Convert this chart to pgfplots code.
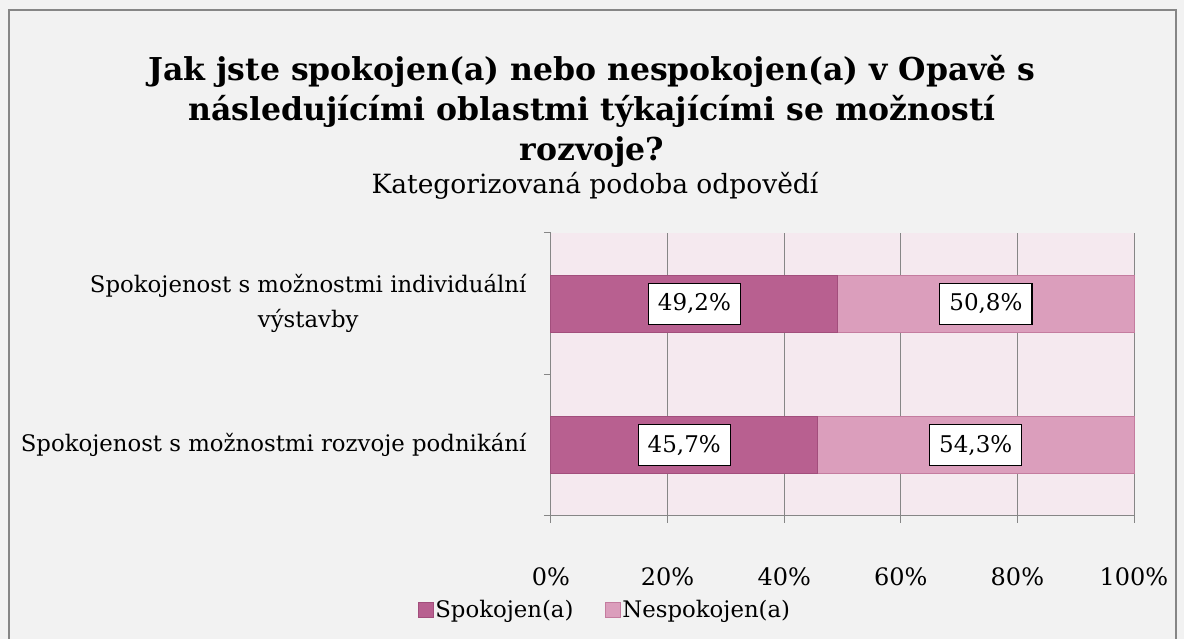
\documentclass[border=0pt]{standalone}
\usepackage{fontspec}
\setmainfont{DejaVu Serif}
\usepackage{pgfplots}
\pgfplotsset{compat=1.18}
\definecolor{bg}{HTML}{F2F2F2}
\definecolor{plotbg}{HTML}{F5E9EF}
\definecolor{cA}{HTML}{B86090}
\definecolor{cAe}{HTML}{A24E7C}
\definecolor{cB}{HTML}{DB9EBC}
\definecolor{cBe}{HTML}{C47C9F}
\definecolor{gridc}{HTML}{868686}
\begin{document}
\begin{tikzpicture}
\useasboundingbox (0pt,0pt) rectangle (1184pt,639pt);
\fill[bg] (0pt,0pt) rectangle (1184pt,639pt);
\draw[gridc, line width=2pt] (9pt,-10pt) -- (9pt,629pt) -- (1176pt,629pt) -- (1176pt,-10pt);
% titles
\node[anchor=base, font=\fontsize{31.5}{36}\selectfont\bfseries] at (592pt,558pt) {Jak jste spokojen(a) nebo nespokojen(a) v Opavě s};
\node[anchor=base, font=\fontsize{31.5}{36}\selectfont\bfseries] at (592pt,518pt) {následujícími oblastmi týkajícími se možností};
\node[anchor=base, font=\fontsize{31.5}{36}\selectfont\bfseries] at (592pt,478pt) {rozvoje?};
\node[anchor=base, font=\fontsize{26.5}{30}\selectfont] at (595pt,445pt) {Kategorizovaná podoba odpovědí};
\begin{axis}[
  at={(551pt,123pt)}, anchor=south west,
  scale only axis, width=583pt, height=283pt,
  xbar stacked, bar width=57pt,
  xmin=0, xmax=100, ymin=-0.5, ymax=1.5,
  axis background/.style={fill=plotbg},
  axis x line*=bottom, axis y line*=left,
  axis line style={gridc, line width=1pt},
  xtick={0,20,40,60,80,100},
  xticklabels={0\%,20\%,40\%,60\%,80\%,100\%},
  xmajorgrids, major grid style={gridc, line width=1pt},
  ytick={0,1},
  yticklabels={Spokojenost s možnostmi rozvoje podnikání, {Spokojenost s možnostmi individuální\\výstavby}},
  yticklabel style={align=center, font=\fontsize{22.8}{35}\selectfont, xshift=-14pt},
  xticklabel style={font=\fontsize{24}{28}\selectfont, yshift=-41pt},
  ytick style={draw=none},
  xtick style={gridc, line width=1pt},
  tick align=outside, major tick length=7pt,
  extra y ticks={-0.5,0.5,1.5}, extra y tick labels={},
  extra y tick style={ytick style={gridc, line width=1pt, draw=gridc}, major tick length=7pt, grid=none},
  legend style={at={(0.093,-0.332)}, anchor=center, draw=none, fill=none, legend columns=2,
    font=\fontsize{22.8}{28}\selectfont, /tikz/every even column/.append style={column sep=30pt},
    /tikz/every odd column/.append style={column sep=-1pt}},
  legend image code/.code={\draw[#1] (0pt,-7.5pt) rectangle (15pt,7.5pt);},
  clip=false,
]
\addplot[fill=cA, draw=cAe, line width=1pt] coordinates {(45.7,0) (49.2,1)};
\addplot[fill=cB, draw=cBe, line width=1pt] coordinates {(54.3,0) (50.8,1)};
\legend{Spokojen(a), Nespokojen(a)}
\end{axis}
\begin{axis}[
  at={(551pt,123pt)}, anchor=south west,
  scale only axis, width=583pt, height=283pt,
  xmin=0, xmax=100, ymin=-0.5, ymax=1.5,
  hide axis, clip=false,
]
\addplot[only marks, mark=none, point meta=explicit symbolic,
  nodes near coords,
  every node near coord/.style={anchor=center, fill=white, draw=black, line width=1.2pt,
    font=\fontsize{23}{26}\selectfont, inner xsep=9.5pt, inner ysep=10.5pt}]
  coordinates {(22.85,0) [45,7\%] (72.85,0) [54,3\%] (24.6,1) [49,2\%] (74.6,1) [50,8\%]};
\end{axis}
\end{tikzpicture}
\end{document}
